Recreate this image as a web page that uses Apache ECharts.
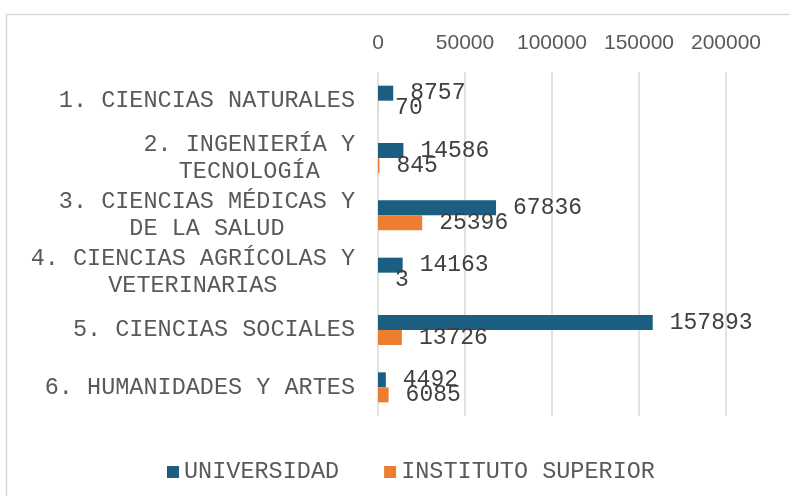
<!DOCTYPE html>
<html>
<head>
<meta charset="utf-8">
<script src="https://cdn.jsdelivr.net/npm/echarts@6/dist/echarts.min.js"></script>
<style>
html,body{margin:0;padding:0;background:#fff;}
#chart{width:790px;height:496px;}
</style>
</head>
<body>
<div id="chart"></div>
<script>
var categories = ['1. CIENCIAS NATURALES', '2. INGENIERÍA Y\nTECNOLOGÍA', '3. CIENCIAS MÉDICAS Y\nDE LA SALUD', '4. CIENCIAS AGRÍCOLAS Y\nVETERINARIAS', '5. CIENCIAS SOCIALES', '6. HUMANIDADES Y ARTES'];
var universidad = [8757, 14586, 67836, 14163, 157893, 4492];
var instituto = [70, 845, 25396, 3, 13726, 6085];
var seriesNames = ['UNIVERSIDAD', 'INSTITUTO SUPERIOR'];

var mono = '"Liberation Mono", "Courier New", monospace';

var chart = echarts.init(document.getElementById('chart'));

function labelStyle(){
	return {
		show: true,
		position: 'right',
		distance: 17,
		fontFamily: mono,
		fontSize: 23,
		color: '#404040'
	};
}

var option = {
	backgroundColor: '#fff',
	animation: false,
	color: ['#1B5E82', '#ED7D31'],
	graphic: [{
		type: 'rect',
		shape: {x: 6.5, y: 14.5, width: 900, height: 600},
		style: {fill: 'none', stroke: '#d9d9d9', lineWidth: 1.5},
		silent: true,
		z: -1
	}],
	legend: {
		left: 162,
		top: 455,
		itemWidth: 12,
		itemHeight: 12,
		itemGap: 45,
		icon: 'rect',
		textStyle: {fontFamily: mono, fontSize: 23.5, color: '#595959'},
		data: seriesNames
	},
	grid: {left: 378, right: 64, top: 72, height: 344, containLabel: false},
	xAxis: {
		type: 'value',
		position: 'top',
		min: 0,
		max: 200000,
		interval: 50000,
		axisLine: {show: false},
		axisTick: {show: false},
		splitLine: {lineStyle: {color: '#d9d9d9', width: 1.5}},
		axisLabel: {
			margin: 18,
			fontFamily: '"Liberation Sans", Arial, sans-serif',
			fontSize: 21,
			color: '#595959',
			formatter: function(v){ return String(v); }
		}
	},
	yAxis: {
		type: 'category',
		inverse: true,
		data: categories,
		axisLine: {show: false},
		axisTick: {show: false},
		axisLabel: {
			margin: 23,
			align: 'right',
			formatter: function(v){
				return v.split('\n').map(function(s){ return '{c|' + s + '}'; }).join('\n');
			},
			rich: {
				c: {align: 'center', fontFamily: mono, fontSize: 23.5, color: '#595959', lineHeight: 27}
			}
		}
	},
	series: [
		{
			name: seriesNames[0],
			type: 'bar',
			data: universidad,
			barWidth: 15,
			barGap: '0%',
			label: labelStyle()
		},
		{
			name: seriesNames[1],
			type: 'bar',
			data: instituto,
			barWidth: 15,
			barGap: '0%',
			label: labelStyle()
		}
	]
};

chart.setOption(option);
</script>
</body>
</html>
